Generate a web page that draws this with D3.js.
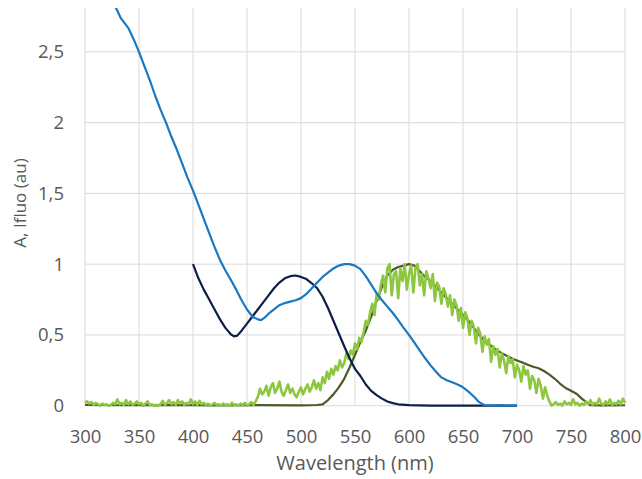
<!DOCTYPE html>
<html><head><meta charset="utf-8">
<script src="https://cdn.jsdelivr.net/npm/d3@7"></script>
<style>body{margin:0;background:#fff}svg{display:block}text{font-family:"Open Sans",sans-serif;fill:#595959}</style>
</head><body><svg id="c" width="642" height="479"></svg>
<script>
const xTicks = [300,350,400,450,500,550,600,650,700,750,800];
const yTicks = [0,0.5,1,1.5,2,2.5];
const yTickLabels = ["0","0,5","1","1,5","2","2,5"];
const xTitle = "Wavelength (nm)";
const yTitle = "A, Ifluo (au)";

// absorption, light blue [nm, value]
const absA = [[320,2.95],[325,2.86],[330,2.79],[333,2.74],[336,2.71],[340,2.67],[345,2.59],[350,2.50],[355,2.40],[360,2.30],[365,2.19],[370,2.09],[375,2.00],[380,1.90],[385,1.81],[390,1.71],[395,1.61],[400,1.52],[405,1.42],[410,1.32],[415,1.22],[420,1.12],[425,1.03],[430,0.955],[435,0.89],[440,0.82],[445,0.745],[450,0.68],[455,0.63],[460,0.61],[463,0.605],[466,0.62],[470,0.65],[475,0.68],[480,0.71],[485,0.725],[490,0.735],[495,0.745],[500,0.76],[505,0.79],[510,0.83],[515,0.87],[520,0.91],[525,0.94],[530,0.97],[535,0.99],[540,1.0],[545,1.0],[550,0.99],[555,0.965],[560,0.915],[565,0.855],[570,0.795],[575,0.745],[580,0.70],[585,0.655],[590,0.605],[595,0.55],[600,0.50],[605,0.445],[610,0.39],[615,0.335],[620,0.285],[625,0.24],[630,0.20],[635,0.18],[640,0.165],[645,0.15],[650,0.13],[655,0.10],[660,0.065],[665,0.025],[670,0.003],[675,0],[680,0.002],[685,0.004],[690,0.001],[695,0],[700,0]];

// absorption, navy
const absB = [[400,1.00],[405,0.90],[410,0.82],[415,0.75],[420,0.68],[425,0.61],[430,0.55],[435,0.505],[438,0.49],[441,0.495],[445,0.53],[450,0.58],[455,0.63],[460,0.68],[465,0.73],[470,0.78],[475,0.83],[480,0.87],[485,0.90],[490,0.915],[495,0.92],[500,0.91],[505,0.895],[510,0.865],[515,0.83],[520,0.77],[525,0.69],[530,0.60],[535,0.51],[540,0.42],[545,0.335],[550,0.26],[555,0.21],[560,0.15],[565,0.105],[570,0.075],[575,0.05],[580,0.03],[585,0.018],[590,0.01],[600,0.004],[620,0.001],[650,0],[700,0]];

// fluorescence, smooth olive
const fluoA = [[300,0.005],[340,0.003],[380,0.006],[420,0.002],[460,0.004],[500,0.003],[515,0.005],[520,0.01],[525,0.04],[530,0.08],[535,0.13],[540,0.19],[545,0.27],[550,0.36],[555,0.45],[560,0.53],[565,0.63],[570,0.74],[575,0.84],[580,0.92],[585,0.96],[590,0.98],[595,0.99],[600,1.0],[605,0.99],[610,0.95],[615,0.91],[620,0.88],[625,0.84],[630,0.80],[635,0.76],[640,0.72],[645,0.68],[650,0.64],[655,0.60],[660,0.55],[665,0.50],[670,0.46],[675,0.43],[680,0.40],[685,0.375],[690,0.355],[695,0.335],[700,0.32],[705,0.305],[710,0.29],[715,0.275],[720,0.265],[725,0.245],[730,0.22],[735,0.19],[740,0.155],[745,0.125],[750,0.105],[755,0.085],[760,0.05],[765,0.02],[768,0.003],[780,0.002],[800,0.003]];

// fluorescence, noisy light green
const fluoB = [[300,0.02],[302,0.03],[304,0.015],[306,0.025],[308,0.005],[310,0.02],[312,0.01],[314,0.0],[316,0.015],[318,0.005],[320,0.01],[322,0.0],[324,0.005],[326,0.02],[328,0.01],[330,0.045],[332,0.01],[334,0.02],[336,0.005],[338,0.04],[340,0.01],[342,0.03],[344,0.005],[346,0.015],[348,0.03],[350,0.01],[352,0.02],[354,0.0],[356,0.015],[358,0.03],[360,0.005],[362,0.01],[364,0.0],[366,0.005],[368,0.0],[370,0.01],[372,0.035],[374,0.005],[376,0.02],[378,0.04],[380,0.01],[382,0.025],[384,0.005],[386,0.04],[388,0.015],[390,0.03],[392,0.005],[394,0.02],[396,0.01],[398,0.045],[400,0.01],[402,0.03],[404,0.005],[406,0.035],[408,0.01],[410,0.02],[412,0.005],[414,0.015],[416,0.0],[418,0.01],[420,0.02],[422,0.005],[424,0.01],[426,0.0],[428,0.015],[430,0.005],[432,0.01],[434,0.0],[436,0.02],[438,0.005],[440,0.01],[442,0.0],[444,0.015],[446,0.005],[448,0.02],[450,0.0],[452,0.01],[454,0.025],[456,0.005],[458,0.03],[460,0.06],
[462,0.12],[464,0.08],[466,0.10],[468,0.14],[470,0.07],[472,0.13],[474,0.16],[476,0.09],[478,0.12],[480,0.17],[482,0.10],[484,0.07],[486,0.11],[488,0.15],[490,0.09],[492,0.12],[494,0.08],[496,0.06],[498,0.10],[500,0.13],[502,0.08],[504,0.12],[506,0.15],[508,0.10],[510,0.13],[512,0.18],[514,0.12],[516,0.16],[518,0.11],[520,0.20],[522,0.16],[524,0.24],[526,0.19],[528,0.26],[530,0.22],[532,0.28],[534,0.25],[536,0.32],[538,0.27],[540,0.30],[542,0.37],[544,0.33],[546,0.39],[548,0.36],[550,0.44],[552,0.40],[554,0.48],
[556,0.45],[558,0.52],[560,0.60],[562,0.57],[564,0.66],[566,0.72],[568,0.64],[570,0.79],[572,0.75],[574,0.86],[576,0.92],[578,0.80],[580,0.97],[582,1.0],[584,0.78],[586,0.93],[588,0.95],[590,0.76],[592,0.97],[594,0.88],[596,1.0],[598,0.82],[600,0.93],[602,0.99],[604,0.80],[606,0.97],[608,1.0],[610,0.85],[612,0.93],[614,0.78],[616,0.95],[618,0.90],[620,0.83],[622,0.93],[624,0.74],[626,0.87],[628,0.84],[630,0.72],[632,0.83],[634,0.79],
[636,0.70],[638,0.78],[640,0.64],[642,0.75],[644,0.71],[646,0.60],[648,0.69],[650,0.55],[652,0.66],[654,0.62],[656,0.50],[658,0.60],[660,0.56],[662,0.44],[664,0.55],[666,0.51],[668,0.38],[670,0.49],[672,0.43],[674,0.47],[676,0.31],[678,0.42],[680,0.36],[682,0.40],[684,0.27],[686,0.37],[688,0.32],[690,0.23],[692,0.35],[694,0.30],[696,0.33],[698,0.20],[700,0.29],[702,0.25],[704,0.17],[706,0.28],[708,0.22],[710,0.25],[712,0.12],[714,0.21],[716,0.18],[718,0.09],[720,0.19],[722,0.14],[724,0.05],[726,0.13],[728,0.07],[730,0.03],[732,0.0],
[734,0.01],[736,0.025],[738,0.005],[740,0.015],[742,0.0],[744,0.03],[746,0.01],[748,0.02],[750,0.005],[752,0.045],[754,0.01],[756,0.02],[758,0.0],[760,0.015],[762,0.005],[764,0.03],[766,0.01],[768,0.04],[770,0.005],[772,0.02],[774,0.01],[776,0.05],[778,0.015],[780,0.005],[782,0.03],[784,0.01],[786,0.045],[788,0.005],[790,0.02],[792,0.01],[794,0.035],[796,0.01],[798,0.05],[800,0.02]];

const svg = d3.select("#c");
const x = d3.scaleLinear().domain([300,800]).range([85,625]);
const y = d3.scaleLinear().domain([0,2.81]).range([405.7,8]);

svg.append("defs").append("clipPath").attr("id","clip")
  .append("rect").attr("x",80).attr("y",8).attr("width",550).attr("height",402);

// gridlines
const g = svg.append("g");
g.selectAll("line.h").data(yTicks).join("line")
  .attr("x1",85).attr("x2",625).attr("y1",d=>y(d)).attr("y2",d=>y(d))
  .attr("stroke","#d9d9d9").attr("stroke-width",1);
g.selectAll("line.v").data(xTicks).join("line")
  .attr("y1",8).attr("y2",y(0)).attr("x1",d=>x(d)).attr("x2",d=>x(d))
  .attr("stroke","#d9d9d9").attr("stroke-width",1);

const xAxis = svg.append("g").attr("transform",`translate(0,${y(0)})`)
  .call(d3.axisBottom(x).tickValues(xTicks).tickSize(0).tickPadding(24.5));
xAxis.select(".domain").remove();
xAxis.selectAll("text").style("font-size","18.5px").style("font-family","'Open Sans',sans-serif").attr("fill","#595959");

const yAxis = svg.append("g").attr("transform","translate(64,0)")
  .call(d3.axisLeft(y).tickValues(yTicks).tickSize(0).tickPadding(0).tickFormat((d,i)=>yTickLabels[i]));
yAxis.select(".domain").remove();
yAxis.selectAll("text").style("font-size","18.5px").style("font-family","'Open Sans',sans-serif").attr("fill","#595959");

svg.append("text").attr("x",355).attr("y",470).attr("text-anchor","middle")
  .style("font-size","20px").text(xTitle);
svg.append("text").attr("transform","translate(26,203) rotate(-90)").attr("text-anchor","middle")
  .style("font-size","17px").text(yTitle);

const line = d3.line().x(d=>x(d[0])).y(d=>y(d[1]));
const plot = svg.append("g").attr("clip-path","url(#clip)");
const series = [
  {data:fluoA,color:"#4b5a2c",w:2.2},
  {data:fluoB,color:"#8dc63f",w:2.6},
  {data:absB,color:"#0d1f45",w:2.2},
  {data:absA,color:"#1a78c0",w:2.2}
];
plot.selectAll("path").data(series).join("path")
  .attr("d",d=>line(d.data)).attr("fill","none")
  .attr("stroke",d=>d.color).attr("stroke-width",d=>d.w)
  .attr("stroke-linejoin","round");
</script></body></html>
